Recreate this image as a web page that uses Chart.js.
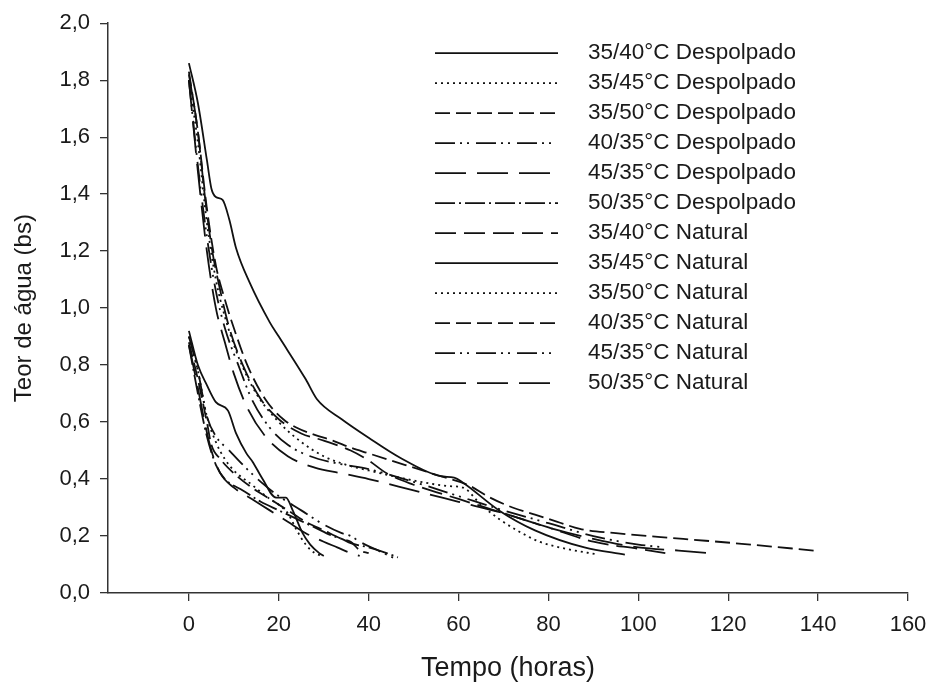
<!DOCTYPE html>
<html>
<head>
<meta charset="utf-8">
<script src="https://cdn.jsdelivr.net/npm/chart.js@4.4.1/dist/chart.umd.min.js"></script>
<style>
  html, body { margin: 0; padding: 0; background: #fff; }
  canvas { display: block; }
</style>
</head>
<body>
<canvas id="dryingChart" width="930" height="688"></canvas>
<script>
const seriesNames = [
    '35/40°C Despolpado', '35/45°C Despolpado', '35/50°C Despolpado',
    '40/35°C Despolpado', '45/35°C Despolpado', '50/35°C Despolpado',
    '35/40°C Natural', '35/45°C Natural', '35/50°C Natural',
    '40/35°C Natural', '45/35°C Natural', '50/35°C Natural'
];
const xTicks = [0, 20, 40, 60, 80, 100, 120, 140, 160];
const yTicks = [0, 0.2, 0.4, 0.6, 0.8, 1.0, 1.2, 1.4, 1.6, 1.8, 2.0];

// despolpado, [horas, teor]
const d3540 = [[0, 0.92], [2, 0.8], [4, 0.73], [6, 0.67], [8.7, 0.64], [10.5, 0.56], [12.8, 0.49], [14.2, 0.46], [16.4, 0.4], [19.4, 0.335], [21.6, 0.335], [23.1, 0.29], [25.3, 0.21], [27, 0.17], [29, 0.14], [30, 0.13]];
const d3545 = [[0, 0.9], [2, 0.78], [4, 0.62], [6, 0.53], [8, 0.47], [10, 0.43], [14, 0.38], [18, 0.33], [20, 0.31], [22, 0.28], [24, 0.22], [26, 0.17], [28, 0.14], [30, 0.13]];
const d3550 = [[0, 0.88], [2, 0.75], [4, 0.6], [5, 0.52], [7, 0.47], [10, 0.42], [14, 0.37], [18, 0.33], [22, 0.29], [26, 0.25], [30, 0.22], [34, 0.19], [36, 0.18], [38, 0.15], [40, 0.14]];
const d4035 = [[0, 0.9], [2, 0.78], [4, 0.62], [6, 0.55], [9, 0.5], [12, 0.45], [16, 0.39], [20, 0.34], [25, 0.29], [30, 0.24], [34, 0.21], [36, 0.2], [38, 0.18], [42, 0.15], [46, 0.12]];
const d4535 = [[0, 0.87], [2, 0.72], [3.5, 0.6], [5, 0.5], [7, 0.42], [10, 0.37], [14, 0.33], [18, 0.29], [22, 0.25], [26, 0.21], [30, 0.18], [33, 0.16], [36, 0.14], [38, 0.13]];
const d5035 = [[0, 0.87], [2, 0.7], [4, 0.55], [6, 0.45], [8, 0.4], [12, 0.36], [16, 0.32], [20, 0.29], [24, 0.26], [28, 0.23], [32, 0.2], [34, 0.19], [36, 0.175], [40, 0.16], [44, 0.14], [46.5, 0.125]];

// natural
const n3540 = [[0, 1.82], [2, 1.62], [3.5, 1.4], [5, 1.22], [7, 1.06], [9, 0.93], [12, 0.8], [16, 0.68], [20, 0.61], [25, 0.56], [30, 0.535], [36, 0.5], [40, 0.465], [44, 0.42], [50, 0.38], [60, 0.33], [70, 0.28], [80, 0.23], [90, 0.18], [100, 0.155], [106, 0.14]];
const n3545 = [[0, 1.86], [2, 1.72], [4, 1.52], [5, 1.42], [6, 1.39], [7.5, 1.38], [9, 1.31], [10.5, 1.21], [13.5, 1.09], [18, 0.95], [20, 0.9], [26, 0.75], [28.5, 0.68], [34, 0.61], [40, 0.545], [47, 0.475], [56, 0.41], [59, 0.405], [61, 0.387], [69, 0.29], [77, 0.22], [88, 0.16], [97, 0.135]];
const n3550 = [[0, 1.8], [2, 1.58], [4, 1.3], [6, 1.1], [8, 0.97], [11, 0.83], [15, 0.7], [20, 0.6], [25, 0.53], [30, 0.48], [35, 0.45], [40, 0.43], [50, 0.395], [58, 0.375], [61, 0.37], [65, 0.31], [69, 0.26], [73, 0.22], [78, 0.18], [84, 0.155], [91, 0.135]];
const n4035 = [[0, 1.83], [2, 1.62], [4, 1.35], [6, 1.15], [8, 1.03], [10, 0.93], [13, 0.8], [17, 0.68], [21, 0.61], [24, 0.58], [28, 0.555], [32, 0.535], [36, 0.51], [40, 0.49], [48, 0.45], [56, 0.41], [62, 0.38], [67, 0.335], [72, 0.3], [77, 0.275], [82, 0.25], [87, 0.225], [95, 0.21], [110, 0.19], [125, 0.17], [139, 0.149]];
const n4535 = [[0, 1.8], [2, 1.5], [4, 1.25], [6, 1.06], [8, 0.93], [11, 0.8], [14, 0.68], [18, 0.58], [22, 0.52], [27, 0.48], [33, 0.455], [40, 0.435], [50, 0.39], [60, 0.34], [70, 0.29], [80, 0.245], [90, 0.2], [100, 0.17], [106, 0.16]];
const n5035 = [[0, 1.8], [2, 1.48], [4, 1.2], [6, 1.0], [8, 0.88], [10, 0.77], [13, 0.65], [17, 0.55], [22, 0.48], [28, 0.44], [34, 0.42], [40, 0.4], [50, 0.36], [60, 0.32], [70, 0.28], [80, 0.23], [90, 0.19], [100, 0.16], [109, 0.149], [117, 0.138]];

const seriesData = [d3540, d3545, d3550, d4035, d4535, d5035, n3540, n3545, n3550, n4035, n4535, n5035];

// line styles as in the legend
const SOLID = [], DOT = [2, 4], SHORT = [15, 6], DDOT = [20, 5, 2, 5, 2, 7], LONG = [31, 11], DASHDOT = [20, 4, 2, 4], MED = [21, 8];
const seriesDash = [SOLID, DOT, SHORT, DDOT, LONG, DASHDOT, MED, SOLID, DOT, SHORT, DDOT, LONG];

const FONT = '"Liberation Sans", Arial, sans-serif';
const INK = '#111';

const datasets = seriesData.map((pts, i) => ({
    label: seriesNames[i],
    data: pts.map(p => ({ x: p[0], y: p[1] })),
    showLine: true,
    borderColor: INK,
    borderWidth: 1.8,
    borderDash: seriesDash[i],
    pointRadius: 0,
    cubicInterpolationMode: 'monotone',
    fill: false
}));

// legend sits inside the plot, top right
const insideLegend = {
    id: 'insideLegend',
    afterDatasetsDraw(chart) {
        const ctx = chart.ctx;
        const top = chart.chartArea.top;
        ctx.save();
        chart.data.datasets.forEach((ds, i) => {
            const y = top + 30 + i * 30;
            ctx.beginPath();
            ctx.setLineDash(ds.borderDash);
            ctx.lineWidth = ds.borderWidth;
            ctx.strokeStyle = ds.borderColor;
            ctx.moveTo(435, y);
            ctx.lineTo(558, y);
            ctx.stroke();
            ctx.setLineDash([]);
            ctx.fillStyle = '#1a1a1a';
            ctx.font = '22.5px ' + FONT;
            ctx.textBaseline = 'middle';
            ctx.fillText(ds.label, 588, y);
        });
        ctx.restore();
    }
};

const ctx = document.getElementById('dryingChart').getContext('2d');
const dryingChart = new Chart(ctx, {
    type: 'scatter',
    data: { datasets: datasets },
    options: {
        responsive: false,
        animation: false,
        layout: { padding: { top: 20, right: 0, left: 0, bottom: 0 } },
        scales: {
            x: {
                type: 'linear',
                min: -18,
                max: 160,
                afterBuildTicks: s => { s.ticks = xTicks.map(v => ({ value: v })); },
                afterFit: s => { s.height = 95; s.paddingRight = 22; },
                grid: { drawOnChartArea: false, drawTicks: true, tickLength: 8, color: '#333', lineWidth: 1.3 },
                border: { display: true, color: '#333', width: 1.5 },
                ticks: { color: '#1a1a1a', font: { family: FONT, size: 22 }, padding: 11, maxRotation: 0 },
                title: { display: true, text: 'Tempo (horas)', color: '#1a1a1a', font: { family: FONT, size: 27 }, padding: { top: 0, bottom: 3 } }
            },
            y: {
                min: 0,
                max: 2,
                afterBuildTicks: s => { s.ticks = yTicks.map(v => ({ value: v })); },
                afterFit: s => { s.width = 108; },
                grid: { drawOnChartArea: false, drawTicks: true, tickLength: 8, color: '#333', lineWidth: 1.3 },
                border: { display: true, color: '#333', width: 1.5 },
                ticks: {
                    color: '#1a1a1a',
                    font: { family: FONT, size: 22 },
                    padding: 10,
                    callback: v => v.toFixed(1).replace('.', ',')
                },
                title: { display: true, text: 'Teor de água (bs)', color: '#1a1a1a', font: { family: FONT, size: 24 }, padding: { top: 10, bottom: 0 } }
            }
        },
        plugins: {
            legend: { display: false },
            tooltip: { enabled: false }
        }
    },
    plugins: [insideLegend]
});
</script>
</body>
</html>
